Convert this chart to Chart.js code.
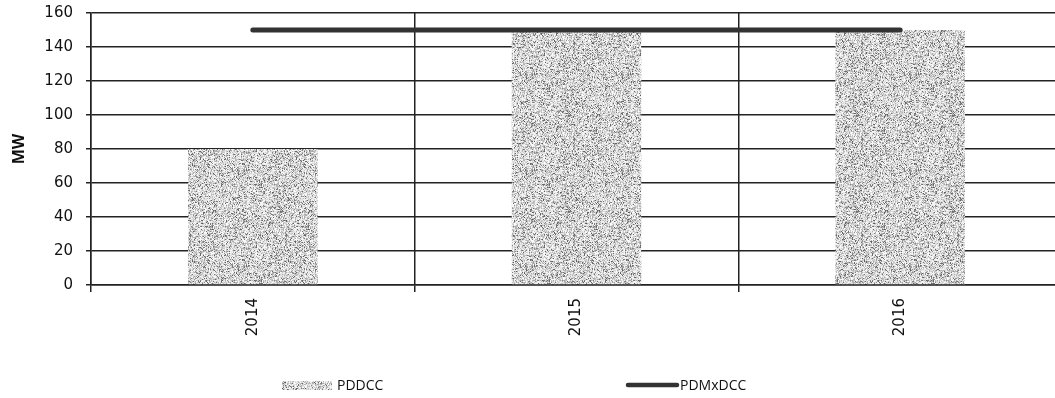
<!DOCTYPE html>
<html>
<head>
<meta charset="utf-8">
<script src="https://cdn.jsdelivr.net/npm/chart.js@4"></script>
<style>
  html, body { margin: 0; padding: 0; background: #fff; overflow: hidden; }
  #wrap { width: 1070px; height: 398px; position: relative; }
</style>
</head>
<body>
<div id="wrap"><canvas id="c"></canvas></div>
<script>
const categories = ['2014', '2015', '2016'];
const pddccValues = [80, 150, 150];
const pdmxdccValues = [150, 150, 150];
const yTicks = [0, 20, 40, 60, 80, 100, 120, 140, 160];
const seriesNames = ['PDDCC', 'PDMxDCC'];

// Stippled texture (deterministic LCG noise) for bars
function makePattern() {
  const c = document.createElement('canvas');
  c.width = 96; c.height = 96;
  const g = c.getContext('2d');
  const img = g.createImageData(96, 96);
  let s = 12345;
  function rnd() { s = (s * 1103515245 + 12345) & 0x7fffffff; return s / 0x7fffffff; }
  for (let i = 0; i < 96 * 96; i++) {
    const r = rnd();
    let v;
    if (r < 0.14) v = 90 + rnd() * 60;
    else if (r < 0.45) v = 165 + rnd() * 45;
    else v = 215 + rnd() * 40;
    img.data[i * 4] = v; img.data[i * 4 + 1] = v; img.data[i * 4 + 2] = v; img.data[i * 4 + 3] = 255;
  }
  g.putImageData(img, 0, 0);
  return g.createPattern(c, 'repeat');
}
const pattern = makePattern();

const legendPlugin = {
  id: 'customLegend',
  afterDraw(chart) {
    const ctx = chart.ctx;
    ctx.save();
    ctx.font = '14px "Open Sans"';
    ctx.textBaseline = 'middle';
    ctx.fillStyle = pattern;
    ctx.fillRect(282, 381, 50, 9);
    ctx.fillStyle = '#111';
    ctx.fillText(chart.data.datasets[0].label, 337, 386);
    ctx.strokeStyle = '#333';
    ctx.lineWidth = 4.5;
    ctx.lineCap = 'round';
    ctx.beginPath();
    ctx.moveTo(628, 385);
    ctx.lineTo(677, 385);
    ctx.stroke();
    ctx.fillText(chart.data.datasets[1].label, 680, 386);
    ctx.restore();
  }
};

new Chart(document.getElementById('c'), {
  data: {
    labels: categories,
    datasets: [
      {
        type: 'bar',
        label: seriesNames[0],
        data: pddccValues,
        backgroundColor: pattern,
        borderWidth: 0,
        categoryPercentage: 1.0,
        barPercentage: 0.4,
        order: 2
      },
      {
        type: 'line',
        label: seriesNames[1],
        data: pdmxdccValues,
        borderColor: '#333',
        borderWidth: 5,
        pointRadius: 0,
        fill: false,
        borderCapStyle: 'round',
        order: 1
      }
    ]
  },
  options: {
    responsive: true,
    maintainAspectRatio: false,
    animation: false,
    layout: { padding: { top: 13, right: 8, left: 0, bottom: 0 } },
    plugins: {
      legend: { display: false },
      tooltip: { enabled: false }
    },
    scales: {
      x: {
        offset: true,
        afterFit(scale) { scale.height = 113; scale.paddingLeft = 0; scale.paddingRight = 0; },
        grid: {
          offset: true,
          color: '#222',
          lineWidth: 1.5,
          tickLength: 7,
          drawTicks: true
        },
        border: { color: '#222', width: 1.5 },
        ticks: {
          minRotation: 90,
          maxRotation: 90,
          padding: 6,
          color: '#111',
          font: { family: 'DejaVu Sans', size: 15 }
        }
      },
      y: {
        min: 0,
        max: 160,
        afterFit(scale) { scale.width = 91; scale.paddingTop = 0; scale.paddingBottom = 0; },
        afterBuildTicks(scale) { scale.ticks = yTicks.map(v => ({ value: v })); },
        grid: {
          color: '#222',
          lineWidth: 1.5,
          tickLength: 5
        },
        border: { color: '#222', width: 1.5 },
        ticks: {
          padding: 13,
          color: '#111',
          font: { family: 'DejaVu Sans', size: 15 }
        },
        title: {
          display: true,
          text: 'MW',
          color: '#111',
          padding: { top: 10, bottom: 0 },
          font: { family: 'Open Sans', size: 16, weight: 'bold' }
        }
      }
    }
  },
  plugins: [legendPlugin]
});
</script>
</body>
</html>
